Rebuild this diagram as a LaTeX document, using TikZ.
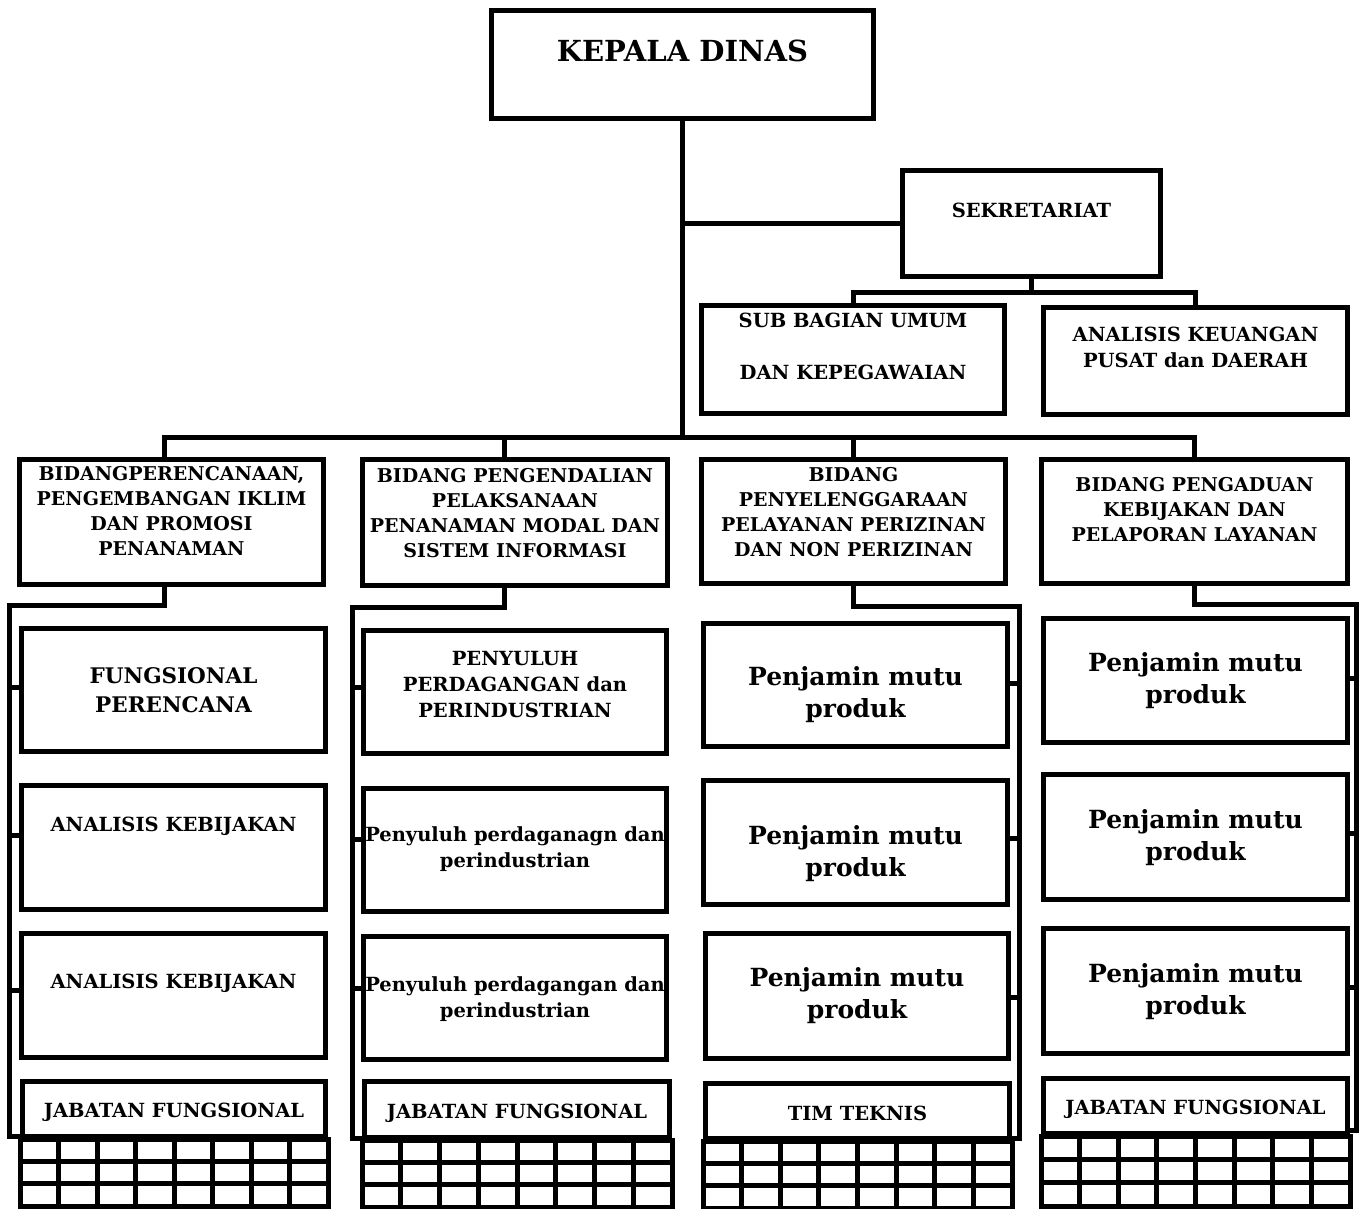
\documentclass[tikz,border=0pt]{standalone}
\usepackage{fontspec}
\setmainfont{DejaVu Serif}
\tikzset{
 box/.style={draw, line width=5pt, inner sep=0pt, outer sep=0pt},
 lbl/.style={align=center, inner sep=0pt, font=\bfseries},
 conn/.style={line width=5pt, line cap=rect},
 gridl/.style={line width=5pt, line cap=rect},
 fK/.style={font=\bfseries\fontsize{29}{36}\selectfont},
 fH/.style={font=\bfseries\fontsize{19}{25}\selectfont},
 fS/.style={font=\bfseries\fontsize{19.5}{26}\selectfont},
 fF/.style={font=\bfseries\fontsize{21.5}{29}\selectfont},
 fP/.style={font=\bfseries\fontsize{25}{32}\selectfont},
}
% name, x0, y0, x1, y1, label options, text
\newcommand\orgbox[7]{\node[box, minimum width={#4-#2-5}, minimum height={#5-#3-5},
  label={[lbl,#6]center:{#7}}] (#1) at ({(#2+#4)/2},{(#3+#5)/2}) {};}
\newcommand\jgrid[4]{%
  \draw[gridl] (#1,#2) rectangle (#3,#4);
  \foreach \i in {1,...,7}{\draw[gridl] ({#1+\i*(#3-#1)/8},#2) -- ({#1+\i*(#3-#1)/8},#4);}
  \foreach \j in {1,2}{\draw[gridl] (#1,{#2+\j*(#4-#2)/3}) -- (#3,{#2+\j*(#4-#2)/3});}}
\begin{document}
\begin{tikzpicture}[x=1pt,y=-1pt]
\useasboundingbox[fill=white] (0,0) rectangle (1360,1209);
% top
\orgbox{kd}{489}{8}{876}{121}{fK,yshift=13.5pt}{KEPALA DINAS}
\orgbox{sek}{900}{168}{1163}{279}{fS,yshift=13.5pt}{SEKRETARIAT}
\orgbox{sub}{699}{303}{1007}{416}{fS,yshift=13.5pt}{SUB BAGIAN UMUM\\ \\DAN KEPEGAWAIAN}
\orgbox{keu}{1041}{305}{1350}{417}{fS,yshift=13.5pt}{ANALISIS KEUANGAN\\PUSAT dan DAERAH}
% bidang
\orgbox{b1}{17}{457}{326}{587}{fH,yshift=11pt}{BIDANGPERENCANAAN,\\PENGEMBANGAN IKLIM\\DAN PROMOSI\\PENANAMAN}
\orgbox{b2}{360}{457}{670}{588}{fH,yshift=9.5pt}{BIDANG PENGENDALIAN\\PELAKSANAAN\\PENANAMAN MODAL DAN\\SISTEM INFORMASI}
\orgbox{b3}{699}{457}{1008}{586}{fH,yshift=9.5pt}{BIDANG\\PENYELENGGARAAN\\PELAYANAN PERIZINAN\\DAN NON PERIZINAN}
\orgbox{b4}{1039}{457}{1350}{586}{fH,yshift=11.5pt}{BIDANG PENGADUAN\\KEBIJAKAN DAN\\PELAPORAN LAYANAN}
% column 1
\orgbox{f11}{19}{626}{328}{754}{fF,yshift=0pt}{FUNGSIONAL\\PERENCANA}
\orgbox{f12}{19}{783}{328}{912}{fS,yshift=21.5pt}{ANALISIS KEBIJAKAN}
\orgbox{f13}{19}{931}{328}{1060}{fS,yshift=12.5pt}{ANALISIS KEBIJAKAN}
\orgbox{j1}{20}{1079}{328}{1139}{fS,yshift=-3pt}{JABATAN FUNGSIONAL}
% column 2
\orgbox{f21}{361}{628}{669}{756}{fS,yshift=7pt}{PENYULUH\\PERDAGANGAN dan\\PERINDUSTRIAN}
\orgbox{f22}{361}{786}{669}{914}{fS,yshift=0.5pt}{Penyuluh perdaganagn dan\\perindustrian}
\orgbox{f23}{361}{934}{669}{1062}{fS,yshift=-1pt}{Penyuluh perdagangan dan\\perindustrian}
\orgbox{j2}{362}{1079}{672}{1140}{fS,yshift=-3.5pt}{JABATAN FUNGSIONAL}
% column 3
\orgbox{f31}{701}{621}{1010}{749}{fP,yshift=-9.5pt}{Penjamin mutu\\produk}
\orgbox{f32}{701}{778}{1010}{907}{fP,yshift=-11.5pt}{Penjamin mutu\\produk}
\orgbox{f33}{703}{931}{1011}{1061}{fP,yshift=0pt}{Penjamin mutu\\produk}
\orgbox{j3}{703}{1081}{1012}{1141}{fS,yshift=-2pt}{TIM TEKNIS}
% column 4
\orgbox{f41}{1041}{616}{1350}{745}{fP,yshift=0pt}{Penjamin mutu\\produk}
\orgbox{f42}{1041}{772}{1350}{902}{fP,yshift=-1pt}{Penjamin mutu\\produk}
\orgbox{f43}{1041}{926}{1350}{1056}{fP,yshift=-1pt}{Penjamin mutu\\produk}
\orgbox{j4}{1041}{1076}{1350}{1136}{fS,yshift=-3pt}{JABATAN FUNGSIONAL}
% grids
\jgrid{20}{1139}{328}{1206}
\jgrid{362}{1140}{672}{1207}
\jgrid{703}{1141}{1012}{1208}
\jgrid{1041}{1136}{1350}{1206}
% top connectors
\coordinate (hub) at (684,437);
\draw[conn] (kd.south) -- (kd.south |- hub);
\draw[conn] (sek.west) -- (sek.west -| kd.south);
\draw[conn] ([xshift=-7pt]b1.north) |- (hub) -| (b4.north);
\draw[conn] ([xshift=-11pt]b2.north) -- ([xshift=-11pt]b2.north |- hub);
\draw[conn] (b3.north) -- (b3.north |- hub);
\coordinate (sh) at (1031,292);
\draw[conn] (sek.south) -- (sek.south |- sh);
\draw[conn] (sub.north) |- (sh) -| (keu.north);
% column 1 rail
\coordinate (r1a) at (9,605); \coordinate (r1b) at (9,1136);
\draw[conn] ([xshift=-7pt]b1.south) |- (r1a) -- (r1b) -- (r1b -| j1.west);
\draw[conn] ([yshift=3pt]f11.west) -- ([yshift=3pt]f11.west -| r1a);
\draw[conn] ([yshift=12pt]f12.west) -- ([yshift=12pt]f12.west -| r1a);
\draw[conn] ([yshift=5pt]f13.west) -- ([yshift=5pt]f13.west -| r1a);
% column 2 rail
\coordinate (r2a) at (352,607); \coordinate (r2b) at (352,1138);
\draw[conn] ([xshift=-11pt]b2.south) |- (r2a) -- (r2b) -- (r2b -| j2.west);
\draw[conn] ([yshift=5pt]f21.west) -- ([yshift=5pt]f21.west -| r2a);
\draw[conn] ([yshift=11pt]f22.west) -- ([yshift=11pt]f22.west -| r2a);
\draw[conn] ([yshift=10pt]f23.west) -- ([yshift=10pt]f23.west -| r2a);
% column 3 rail
\coordinate (r3a) at (1019,606); \coordinate (r3b) at (1019,1138);
\draw[conn] (b3.south) |- (r3a) -- (r3b) -- (r3b -| j3.east);
\draw[conn] ([yshift=2pt]f31.east) -- ([yshift=2pt]f31.east -| r3a);
\draw[conn] ([yshift=4pt]f32.east) -- ([yshift=4pt]f32.east -| r3a);
\draw[conn] ([yshift=-1pt]f33.east) -- ([yshift=-1pt]f33.east -| r3a);
% column 4 rail
\coordinate (r4a) at (1356,604); \coordinate (r4b) at (1356,1130);
\draw[conn] (b4.south) |- (r4a) -- (r4b) -- (r4b -| j4.east);
\draw[conn] ([yshift=2pt]f41.east) -- ([yshift=2pt]f41.east -| r4a);
\draw[conn] ([yshift=4pt]f42.east) -- ([yshift=4pt]f42.east -| r4a);
\draw[conn] ([yshift=4pt]f43.east) -- ([yshift=4pt]f43.east -| r4a);
\end{tikzpicture}
\end{document}
